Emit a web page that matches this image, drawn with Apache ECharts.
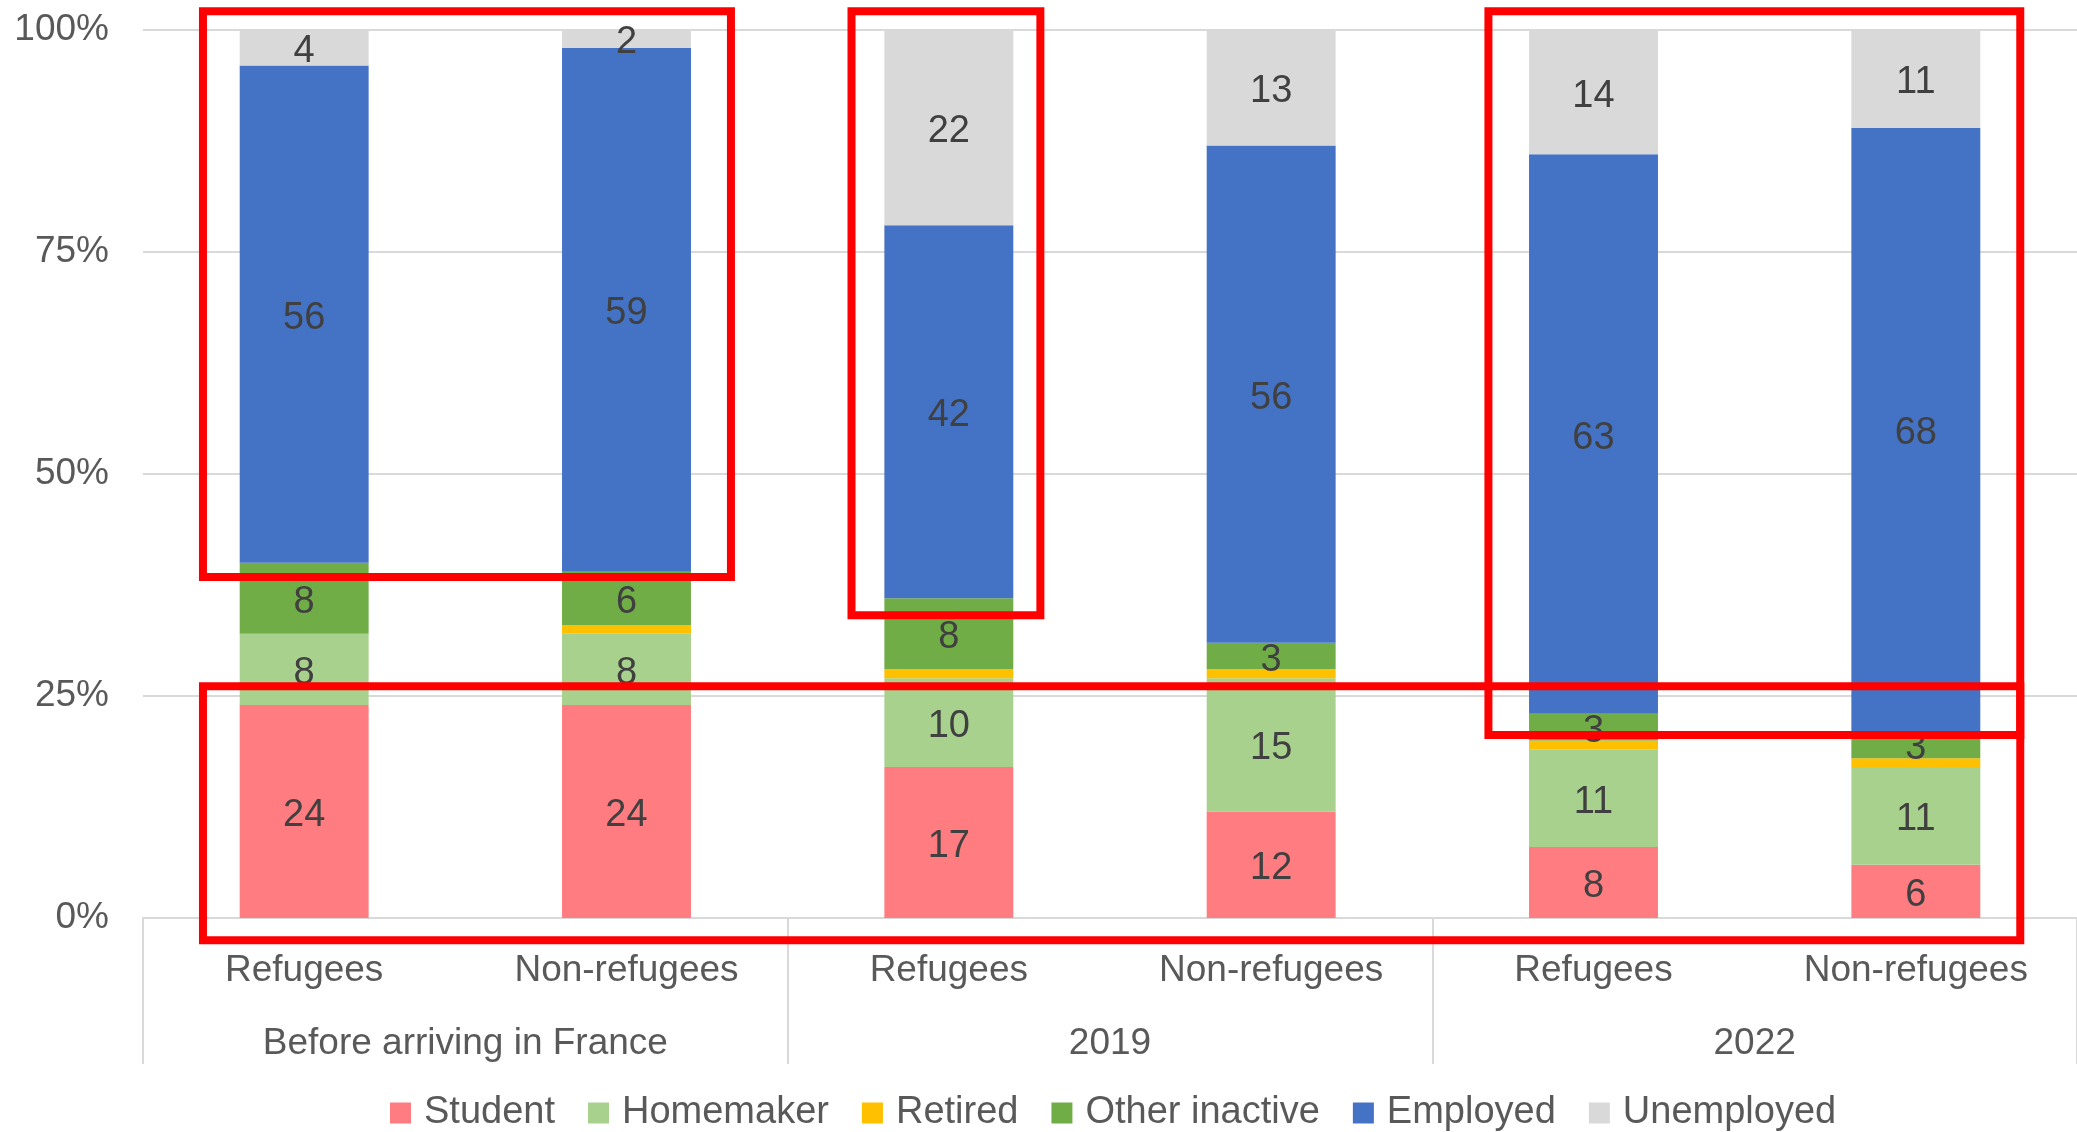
<!DOCTYPE html>
<html>
<head>
<meta charset="utf-8">
<script src="https://cdn.jsdelivr.net/npm/echarts@6/dist/echarts.min.js"></script>
<style>
html,body{margin:0;padding:0;background:#fff;}
#chart{width:2077px;height:1132px;}
</style>
</head>
<body>
<div id="chart"></div>
<script>
// ---- data ----
var categories = ['Refugees', 'Non-refugees', 'Refugees', 'Non-refugees', 'Refugees', 'Non-refugees'];
var groups = ['Before arriving in France', '2019', '2022'];
var yTicks = [0, 25, 50, 75, 100];

var student       = [24, 24, 17, 12, 8, 6];
var homemaker     = [8, 8, 10, 15, 11, 11];
var retired       = [0, 1, 1, 1, 1, 1];
var otherInactive = [8, 6, 8, 3, 3, 3];
var employed      = [56, 59, 42, 56, 63, 68];
var unemployed    = [4, 2, 22, 13, 14, 11];

// highlight boxes (annotation), in data units: [catFrom, catTo, valueLow, valueHigh]
var boxes = [
  [-0.314, 1.324, 38.4, 102.1],
  [1.698, 2.284, 34.1, 102.1],
  [3.674, 5.324, 20.6, 102.1],
  [-0.314, 5.324, -2.5, 26.1]
];

var FONT = '"Liberation Sans", Arial, sans-serif';
var AXIS_COLOR = '#595959';
var LABEL_COLOR = '#404040';

function mkSeries(name, data, color, showLabel) {
  return {
    name: name,
    type: 'bar',
    stack: 'total',
    barWidth: '40%',
    data: data,
    itemStyle: { color: color },
    label: {
      show: showLabel,
      position: 'inside',
      offset: [0, 4],
      color: LABEL_COLOR,
      fontFamily: FONT,
      fontSize: 38,
      formatter: function (p) { return p.value ? String(p.value) : ''; }
    },
    emphasis: { disabled: true }
  };
}

var chart = echarts.init(document.getElementById('chart'), null, { renderer: 'canvas' });

var option = {
  animation: false,
  backgroundColor: '#ffffff',
  textStyle: { fontFamily: FONT },
  grid: { left: 143, right: -4, top: 30, bottom: 214, containLabel: false },
  legend: {
    top: 1089,
    left: 385,
    itemWidth: 21,
    itemHeight: 21,
    itemGap: 33,
    icon: 'rect',
    textStyle: { color: AXIS_COLOR, fontSize: 38, fontFamily: FONT, padding: [0, 0, 0, 8] },
    data: ['Student', 'Homemaker', 'Retired', 'Other inactive', 'Employed', 'Unemployed']
  },
  xAxis: [
    {
      type: 'category',
      data: categories,
      position: 'bottom',
      axisLine: { show: true, lineStyle: { color: '#D9D9D9', width: 2 } },
      axisTick: { show: false },
      axisLabel: { color: AXIS_COLOR, fontSize: 37, fontFamily: FONT, margin: 35, lineHeight: 36, interval: 0 }
    },
    {
      type: 'category',
      data: groups,
      position: 'bottom',
      offset: 0,
      axisLine: { show: false },
      axisTick: { show: true, length: 146, interval: 0, lineStyle: { color: '#D9D9D9', width: 2 } },
      axisLabel: { color: AXIS_COLOR, fontSize: 37, fontFamily: FONT, margin: 108, lineHeight: 36, interval: 0 },
      splitLine: { show: false }
    }
  ],
  yAxis: {
    type: 'value',
    min: yTicks[0],
    max: yTicks[yTicks.length - 1],
    interval: 25,
    axisLine: { show: false },
    axisTick: { show: false },
    axisLabel: { color: AXIS_COLOR, fontSize: 37, fontFamily: FONT, margin: 34, formatter: '{value}%' },
    splitLine: { lineStyle: { color: '#D9D9D9', width: 2 } }
  },
  series: [
    mkSeries('Student', student, '#FF7C80', true),
    mkSeries('Homemaker', homemaker, '#A9D18E', true),
    mkSeries('Retired', retired, '#FFC000', false),
    mkSeries('Other inactive', otherInactive, '#70AD47', true),
    mkSeries('Employed', employed, '#4472C4', true),
    mkSeries('Unemployed', unemployed, '#D9D9D9', true)
  ]
};

chart.setOption(option);

// draw annotation boxes using the chart's own coordinate conversion
function catToPx(f) {
  var c0 = chart.convertToPixel({ xAxisIndex: 0 }, 0);
  var c1 = chart.convertToPixel({ xAxisIndex: 0 }, 1);
  return c0 + f * (c1 - c0);
}
function valToPx(v) {
  var y0 = chart.convertToPixel({ yAxisIndex: 0 }, 0);
  var y100 = chart.convertToPixel({ yAxisIndex: 0 }, 100);
  return y0 + (v / 100) * (y100 - y0);
}
var gfx = boxes.map(function (b) {
  var x1 = catToPx(b[0]), x2 = catToPx(b[1]);
  var yTop = valToPx(b[3]), yBot = valToPx(b[2]);
  return {
    type: 'rect',
    z: 100,
    silent: true,
    shape: { x: x1, y: yTop, width: x2 - x1, height: yBot - yTop },
    style: { fill: 'none', stroke: '#FF0000', lineWidth: 8 }
  };
});
chart.setOption({ graphic: gfx });
</script>
</body>
</html>
